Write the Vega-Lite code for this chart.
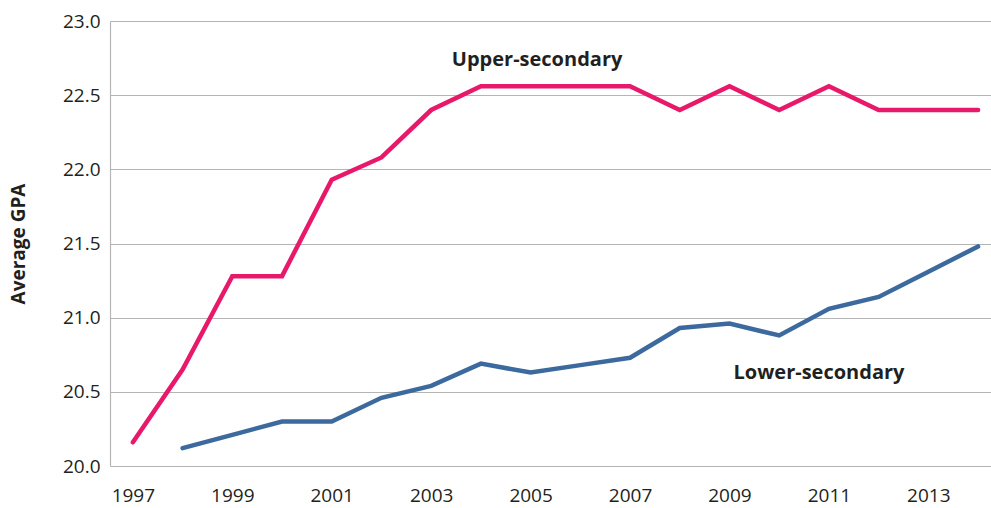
{
  "$schema": "https://vega.github.io/schema/vega-lite/v6.json",
  "autosize": {"type": "none"},
  "padding": {"left": 110, "top": 21, "right": 0, "bottom": 42},
  "width": 881,
  "height": 445,
  "background": "white",
  "config": {"view": {"stroke": null}, "font": "Open Sans"},
  "datasets": {
    "series": [
      {"year": 1997, "gpa": 20.16, "level": "Upper-secondary"},
      {"year": 1998, "gpa": 20.65, "level": "Upper-secondary"},
      {"year": 1999, "gpa": 21.28, "level": "Upper-secondary"},
      {"year": 2000, "gpa": 21.28, "level": "Upper-secondary"},
      {"year": 2001, "gpa": 21.93, "level": "Upper-secondary"},
      {"year": 2002, "gpa": 22.08, "level": "Upper-secondary"},
      {"year": 2003, "gpa": 22.40, "level": "Upper-secondary"},
      {"year": 2004, "gpa": 22.56, "level": "Upper-secondary"},
      {"year": 2005, "gpa": 22.56, "level": "Upper-secondary"},
      {"year": 2006, "gpa": 22.56, "level": "Upper-secondary"},
      {"year": 2007, "gpa": 22.56, "level": "Upper-secondary"},
      {"year": 2008, "gpa": 22.40, "level": "Upper-secondary"},
      {"year": 2009, "gpa": 22.56, "level": "Upper-secondary"},
      {"year": 2010, "gpa": 22.40, "level": "Upper-secondary"},
      {"year": 2011, "gpa": 22.56, "level": "Upper-secondary"},
      {"year": 2012, "gpa": 22.40, "level": "Upper-secondary"},
      {"year": 2013, "gpa": 22.40, "level": "Upper-secondary"},
      {"year": 2014, "gpa": 22.40, "level": "Upper-secondary"},
      {"year": 1998, "gpa": 20.12, "level": "Lower-secondary"},
      {"year": 1999, "gpa": 20.21, "level": "Lower-secondary"},
      {"year": 2000, "gpa": 20.30, "level": "Lower-secondary"},
      {"year": 2001, "gpa": 20.30, "level": "Lower-secondary"},
      {"year": 2002, "gpa": 20.46, "level": "Lower-secondary"},
      {"year": 2003, "gpa": 20.54, "level": "Lower-secondary"},
      {"year": 2004, "gpa": 20.69, "level": "Lower-secondary"},
      {"year": 2005, "gpa": 20.63, "level": "Lower-secondary"},
      {"year": 2006, "gpa": 20.68, "level": "Lower-secondary"},
      {"year": 2007, "gpa": 20.73, "level": "Lower-secondary"},
      {"year": 2008, "gpa": 20.93, "level": "Lower-secondary"},
      {"year": 2009, "gpa": 20.96, "level": "Lower-secondary"},
      {"year": 2010, "gpa": 20.88, "level": "Lower-secondary"},
      {"year": 2011, "gpa": 21.06, "level": "Lower-secondary"},
      {"year": 2012, "gpa": 21.14, "level": "Lower-secondary"},
      {"year": 2013, "gpa": 21.31, "level": "Lower-secondary"},
      {"year": 2014, "gpa": 21.48, "level": "Lower-secondary"}
    ],
    "labels": [
      {"year": 2005.13, "gpa": 22.74, "text": "Upper-secondary"},
      {"year": 2010.8, "gpa": 20.63, "text": "Lower-secondary"}
    ]
  },
  "layer": [
    {
      "data": {"name": "series"},
      "mark": {"type": "line", "strokeWidth": 4.5, "strokeCap": "round", "strokeJoin": "miter"},
      "encoding": {
        "x": {
          "field": "year", "type": "quantitative",
          "scale": {"domain": [1996.54, 2014.26], "nice": false, "zero": false},
          "axis": {
            "values": [1997, 1999, 2001, 2003, 2005, 2007, 2009, 2011, 2013],
            "format": "d", "title": null, "grid": false, "ticks": false,
            "domain": false, "labelFontSize": 19, "labelColor": "#231f20",
            "labelPadding": 20, "labelFont": "Open Sans"
          }
        },
        "y": {
          "field": "gpa", "type": "quantitative",
          "scale": {"domain": [20, 23], "nice": false, "zero": false},
          "axis": {
            "values": [20, 20.5, 21, 21.5, 22, 22.5, 23],
            "format": ".1f", "title": "Average GPA", "titleFontSize": 19,
            "titleFontWeight": "bold", "titleColor": "#231f20", "titlePadding": 34,
            "titleFont": "Open Sans",
            "grid": true, "gridColor": "#b5b5b5", "gridWidth": 1.2,
            "ticks": false, "domain": true, "domainColor": "#b5b5b5", "domainWidth": 1.2,
            "labelFontSize": 19, "labelColor": "#231f20", "labelPadding": 10,
            "labelFont": "Open Sans"
          }
        },
        "color": {
          "field": "level", "type": "nominal",
          "scale": {"domain": ["Upper-secondary", "Lower-secondary"], "range": ["#e8196a", "#3d6a9e"]},
          "legend": null
        }
      }
    },
    {
      "data": {"name": "labels"},
      "mark": {"type": "text", "fontSize": 20, "fontWeight": "bold", "color": "#231f20", "align": "center", "baseline": "middle", "font": "Open Sans"},
      "encoding": {
        "x": {"field": "year", "type": "quantitative"},
        "y": {"field": "gpa", "type": "quantitative"},
        "text": {"field": "text"}
      }
    }
  ]
}
